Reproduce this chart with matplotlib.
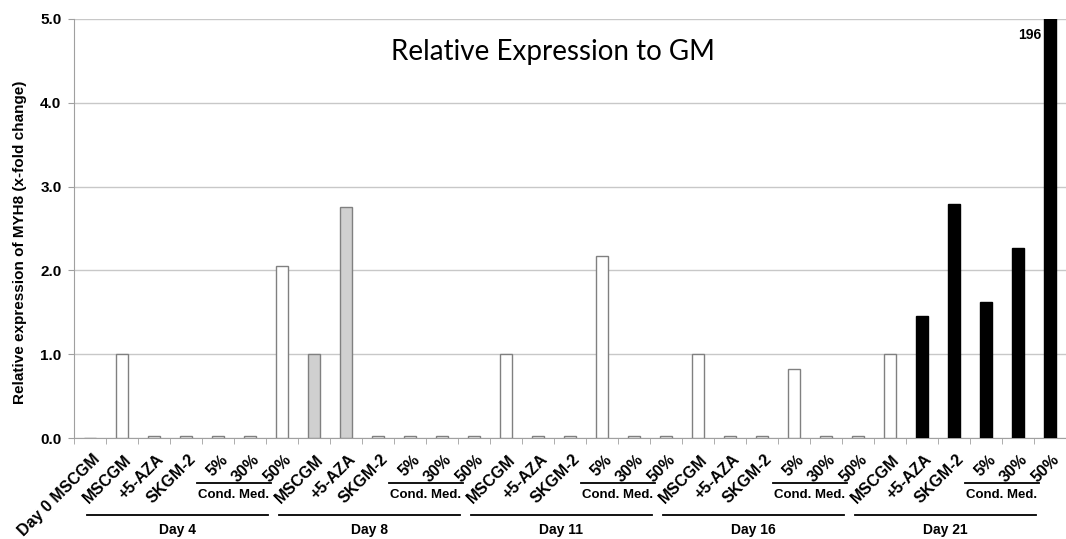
import numpy as np
import matplotlib.pyplot as plt
from matplotlib.transforms import ScaledTranslation

plt.rcParams['font.family'] = ['Liberation Sans', 'DejaVu Sans']

days = ["Day 4", "Day 8", "Day 11", "Day 16", "Day 21"]
conditions = ["MSCGM", "+5-AZA", "SKGM-2", "5%", "30%", "50%"]
labels = ["Day 0 MSCGM"] + conditions * len(days)

# relative expression of MYH8 (x-fold change); last value goes off the scale
values = [0.0,
          1.0, 0.02, 0.02, 0.02, 0.02, 2.05,
          1.0, 2.76, 0.02, 0.02, 0.02, 0.02,
          1.0, 0.02, 0.02, 2.17, 0.02, 0.02,
          1.0, 0.02, 0.02, 0.82, 0.02, 0.02,
          1.0, 1.45, 2.79, 1.62, 2.27, 196.0]

# fill per bar: white by default, grey for day 8 MSCGM/+5-AZA, black for day 21 treatments
fills = ['white'] * len(values)
fills[7] = fills[8] = '#d0d0d0'
for i in range(26, 31):
    fills[i] = 'black'
edges = ['black' if f == 'black' else '#808080' for f in fills]

fig = plt.figure(figsize=(10.66, 5.39), dpi=100)
ax = fig.add_axes([74 / 1066, 101 / 539, 992 / 1066, 419 / 539])

x = np.arange(len(values))
ax.bar(x, values, width=0.4, color=fills, edgecolor=edges, linewidth=1, zorder=3)

ax.set_xlim(-0.5, len(values) - 0.5)
ax.set_ylim(0, 5)
ax.set_yticks(np.arange(0, 5.1, 1))
ax.set_yticklabels([f"{v:.1f}" for v in np.arange(0, 5.1, 1)], fontsize=11, fontweight='bold')
ax.grid(axis='y', color='#c8c8c8', linewidth=1, zorder=0)
ax.tick_params(axis='y', length=4, color='#a0a0a0', pad=5)

for s in ['top', 'right']:
    ax.spines[s].set_visible(False)
for s in ['left', 'bottom']:
    ax.spines[s].set_color('#a0a0a0')

ax.set_xticks(x)
ax.set_xticklabels(labels, rotation=45, ha='right', va='top', rotation_mode='anchor',
                   fontsize=11.5, fontweight='bold')
ax.set_xticks(np.arange(-0.5, len(values), 1), minor=True)
ax.tick_params(axis='x', which='major', length=0, pad=10)
ax.tick_params(axis='x', which='minor', length=4, color='#a0a0a0')
shift = ScaledTranslation(2 / 100, 0, fig.dpi_scale_trans)
for lab in ax.get_xticklabels():
    lab.set_transform(lab.get_transform() + shift)

ax.set_ylabel("Relative expression of MYH8 (x-fold change)", fontsize=11, fontweight='bold')
ax.yaxis.set_label_coords(-0.047, 0.468)

# group brackets under the tick labels
trans = ax.get_xaxis_transform()
for k, day in enumerate(days):
    s = 1 + 6 * k
    ax.plot([s + 2.35, s + 4.65], [-0.107, -0.107], transform=trans, clip_on=False,
            color='black', linewidth=1.3)
    ax.text(s + 3.5, -0.137, "Cond. Med.", transform=trans, ha='center',
            va='center', fontsize=9.5, fontweight='bold')
    ax.plot([s - 1.1, s + 4.55], [-0.184, -0.184], transform=trans, clip_on=False,
            color='black', linewidth=1.3)
    ax.text(s + 1.72, -0.22, day, transform=trans, ha='center', va='center',
            fontsize=10, fontweight='bold')

ax.text(x[-1] - 0.27, 4.81, f"{values[-1]:.0f}", ha='right', va='center',
        fontsize=10, fontweight='bold')

fig.text(553 / 1066, 1 - 60 / 539, "Relative Expression to GM", ha='center',
         va='baseline', fontsize=20, family=['Lato', 'DejaVu Sans'])

fig.savefig("out.png", dpi=100, facecolor='white')
